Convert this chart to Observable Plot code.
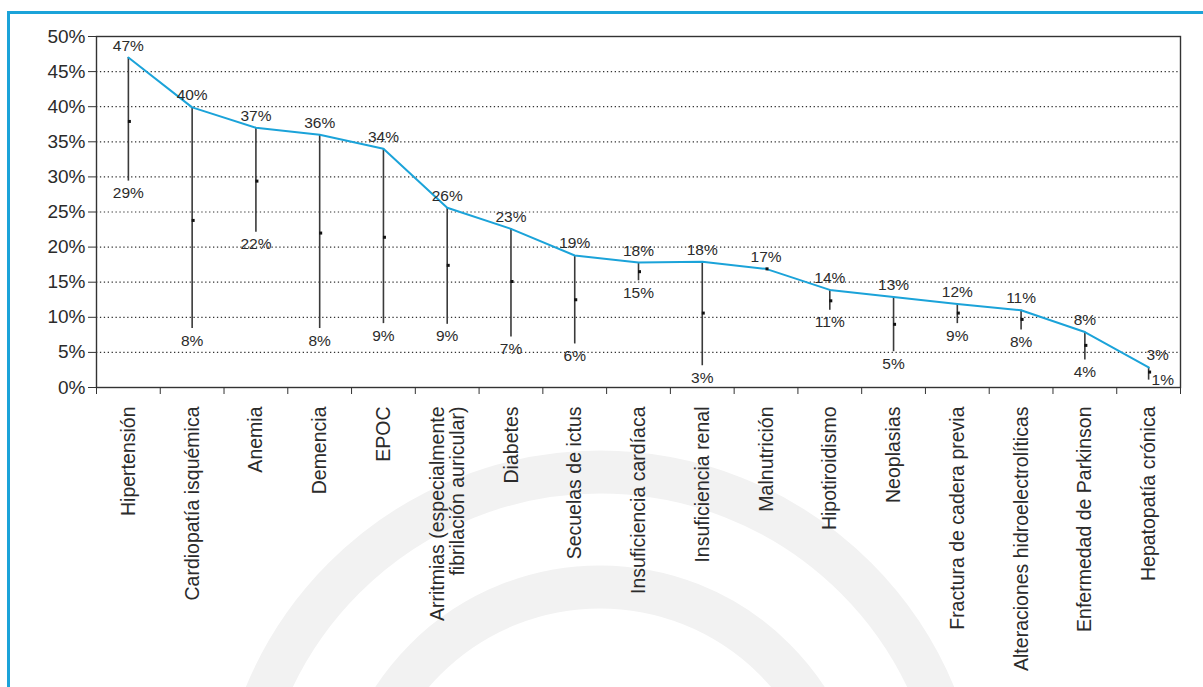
<!DOCTYPE html>
<html><head><meta charset="utf-8">
<script src="https://cdn.jsdelivr.net/npm/d3@7"></script>
<script src="https://cdn.jsdelivr.net/npm/@observablehq/plot@0.6"></script>
<style>
body{margin:0;background:#fff;}
#wrap{position:relative;width:1203px;height:687px;overflow:hidden;font-family:"Liberation Sans",Arial,sans-serif;}
#bg{position:absolute;left:0;top:0;}
#frame{position:absolute;left:7px;top:11px;width:1196px;height:676px;border-left:3px solid #1ba3d9;border-top:3px solid #1ba3d9;box-sizing:border-box;}
#chart{position:absolute;left:0;top:0;}
</style></head><body>
<div id="wrap">
<svg id="bg" width="1203" height="687"><circle cx="600" cy="834" r="362" fill="none" stroke="#f2f2f2" stroke-width="43"/><circle cx="600" cy="834" r="247" fill="none" stroke="#f2f2f2" stroke-width="43"/></svg>
<div id="frame"></div>
<div id="chart"></div>
</div>
<script>
const categories = ["Hipertensión","Cardiopatía isquémica","Anemia","Demencia","EPOC",
  "Arritmias (especialmente\nfibrilación auricular)","Diabetes","Secuelas de ictus","Insuficiencia cardíaca",
  "Insuficiencia renal","Malnutrición","Hipotiroidismo","Neoplasias","Fractura de cadera previa",
  "Alteraciones hidroelectrolíticas","Enfermedad de Parkinson","Hepatopatía crónica"];
const maxVals  = [47, 39.9, 37, 36, 34, 25.6, 22.6, 18.8, 17.8, 17.9, 16.9, 13.9, 12.9, 11.9, 11.0, 7.9, 2.85];
const minVals  = [29.4, 8.4, 22.1, 8.4, 9.1, 9.0, 7.2, 6.2, 15.2, 3.1, null, 11.0, 5.1, 9.1, 8.2, 3.9, 1.05];
const meanVals = [37.9, 23.8, 29.4, 22.0, 21.4, 17.4, 15.1, 12.5, 16.5, 10.6, 16.9, 12.35, 9.0, 10.6, 9.7, 6.0, 2.2];
const yTicks = [0, 5, 10, 15, 20, 25, 30, 35, 40, 45, 50];

const n = categories.length;
const rows = categories.map((c, i) => ({cat: c, xc: i + 0.5, max: maxVals[i], min: minVals[i], mean: meanVals[i], last: i === n - 1}));
const pct = v => Math.round(v) + "%";
const ink = "#2b2b2b";
const blue = "#1ba3d9";

const chart = Plot.plot({
  width: 1203, height: 687,
  marginLeft: 96, marginRight: 23, marginTop: 36, marginBottom: 300,
  style: {background: "transparent", fontFamily: "'Liberation Sans', Arial, sans-serif", color: ink, overflow: "visible"},
  x: {type: "linear", domain: [0, n], axis: null, label: null},
  y: {domain: [0, 50], axis: null, label: null},
  marks: [
    Plot.ruleY(yTicks.filter(t => t > 0 && t < 50), {stroke: "#333", strokeWidth: 1.2, strokeDasharray: "1.3,2.6"}),
    Plot.frame({stroke: "#333", strokeWidth: 1.4}),
    Plot.axisY({ticks: yTicks, tickFormat: d => d + "%", tickSize: 8, tickPadding: 3, fontSize: 19, stroke: "#333", fill: ink, label: null}),
    Plot.axisX({ticks: d3.range(n + 1), tickSize: 7, tickFormat: () => "", stroke: "#333", label: null}),
    Plot.text(rows, {x: "xc", text: "cat", frameAnchor: "bottom", dy: 19, rotate: -90, textAnchor: "end", lineAnchor: "middle", lineHeight: 1.05, fontSize: 19.5, fill: ink}),
    Plot.ruleX(rows.filter(d => d.min != null), {x: "xc", y1: "min", y2: "max", stroke: "#3a3a3a", strokeWidth: 1.6}),
    Plot.line(rows, {x: "xc", y: "max", stroke: blue, strokeWidth: 2}),
    Plot.dot(rows, {x: "xc", y: "mean", symbol: "square", r: 1.7, fill: "#111", stroke: "none", dx: 1}),
    Plot.text(rows.filter(d => !d.last), {x: "xc", y: "max", text: d => pct(d.max), dy: -12, fontSize: 15.5, fill: ink}),
    Plot.text(rows.filter(d => d.last), {x: "xc", y: "max", text: d => pct(d.max), dy: -12, dx: 9, fontSize: 15.5, fill: ink}),
    Plot.text(rows.filter(d => d.min != null && !d.last), {x: "xc", y: "min", text: d => pct(d.min), dy: 12, fontSize: 15.5, fill: ink}),
    Plot.text(rows.filter(d => d.min != null && d.last), {x: "xc", y: "min", text: d => pct(d.min), dx: 3, textAnchor: "start", fontSize: 15.5, fill: ink})
  ]
});
document.getElementById("chart").appendChild(chart);
</script>
</body></html>
